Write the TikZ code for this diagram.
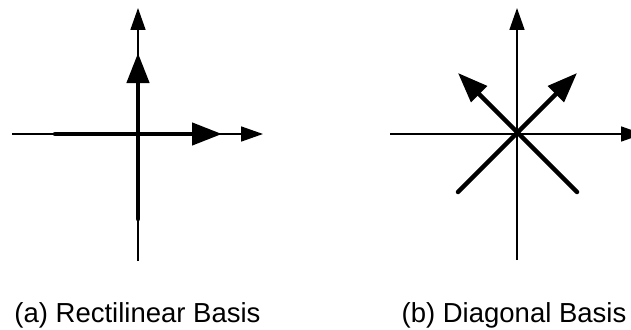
\documentclass[tikz,border=0pt]{standalone}
\usepackage{fontspec}
\setmainfont{Liberation Sans}
\usetikzlibrary{arrows.meta}
\begin{document}
\begin{tikzpicture}[x=1pt,y=-1pt,
  axis/.style={line width=1.6pt,-{Triangle[length=22pt,width=15pt]}},
  basisvec/.style={line width=4.5pt,line cap=round,-{Triangle[length=30pt,width=22pt]}},
  caption/.style={anchor=base,inner sep=0pt,font=\fontsize{27.5}{32}\selectfont}]
\useasboundingbox (0,0) rectangle (631,329);
% (a) rectilinear
\coordinate (aL) at (12,134);
\coordinate (aR) at (263,134);
\coordinate (aB) at (138,261);
\coordinate (aT) at (138,8);
\coordinate (hS) at (55,134);
\coordinate (hE) at (222,134);
\coordinate (vS) at (138,219);
\coordinate (vE) at (138,53);
\draw[axis] (aL) -- (aR);
\draw[axis] (aB) -- (aT);
\draw[basisvec] (hS) -- (hE);
\draw[basisvec] (vS) -- (vE);
\node[caption] (capa) at (137.5,322) {(a) Rectilinear Basis};
% (b) diagonal
\coordinate (bL) at (390,134);
\coordinate (bR) at (643,134);
\coordinate (bB) at (517,260);
\coordinate (bT) at (517,8);
\coordinate (d1S) at (458,192);
\coordinate (d1E) at (577,73);
\coordinate (d2S) at (577,192);
\coordinate (d2E) at (458,73);
\draw[axis] (bL) -- (bR);
\draw[axis] (bB) -- (bT);
\draw[basisvec] (d1S) -- (d1E);
\draw[basisvec] (d2S) -- (d2E);
\node[caption] (capb) at (514,322) {(b) Diagonal Basis};
\end{tikzpicture}
\end{document}
